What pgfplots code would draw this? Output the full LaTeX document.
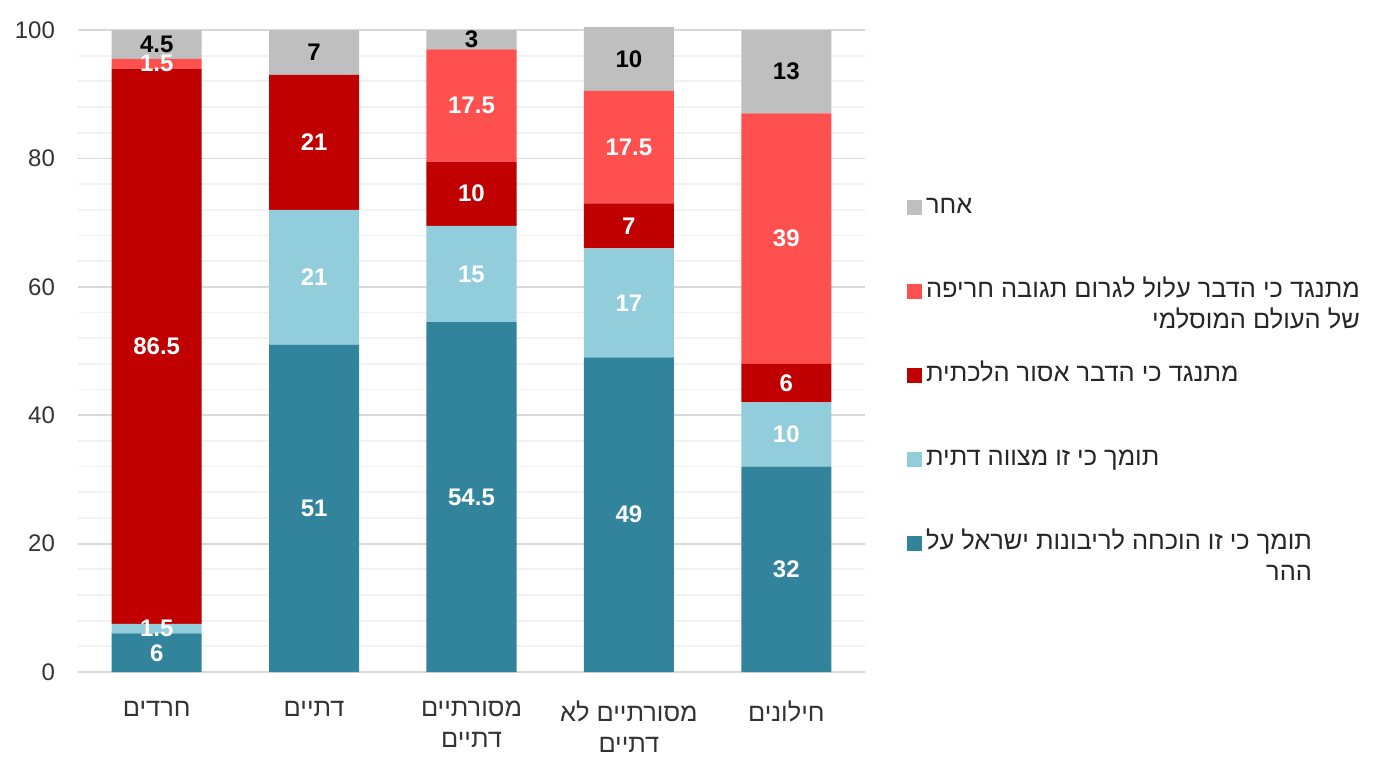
\documentclass[border=0pt]{standalone}
\usepackage{fontspec}
\usepackage{pgfplots}
\usepackage{pgfplotstable}
\pgfplotsset{compat=1.18}
\TeXXeTstate=1
\setmainfont{Liberation Sans}[Script=Hebrew]
\newcommand{\R}[1]{\beginR #1\endR}

\definecolor{cTeal}{RGB}{49,132,155}
\definecolor{cLightBlue}{RGB}{146,205,220}
\definecolor{cDarkRed}{RGB}{192,0,0}
\definecolor{cLightRed}{RGB}{255,80,80}
\definecolor{cGray}{RGB}{191,191,191}
\definecolor{cGridMajor}{RGB}{217,217,217}
\definecolor{cGridMinor}{RGB}{242,242,242}

% segments from bottom to top
\pgfplotstableread{
x  hov   mits  asur  alul  acher
0  6     1.5   86.5  1.5   4.5
1  51    21    21    0     7
2  54.5  15    10    17.5  3
3  49    17    7     17.5  10
4  32    10    6     39    13
}\survey

\newcommand{\lfont}{\fontsize{12.7}{15.5}\selectfont}
\newcommand{\nfont}{\fontsize{12}{14}\selectfont}

\begin{document}
\begin{tikzpicture}
\begin{axis}[
  at={(0,0)}, anchor=south west,
  % 100 units take 321pt; the range runs to 100.5 so the fourth column's
  % total of 100.5 stays inside
  scale only axis, width=393.5pt, height=322.6pt,
  ybar stacked, bar width=45pt,
  xmin=-0.5, xmax=4.5, ymin=0, ymax=100.5,
  xtick={0,1,2,3,4},
  xticklabels={{\R{חרדים}},{\R{דתיים}},{\R{מסורתיים}\\\R{דתיים}},{\R{מסורתיים לא}\\\R{דתיים}},{\R{חילונים}}},
  xticklabel style={font=\lfont, align=center, anchor=north, yshift=-11pt, text=black!80},
  ytick={0,20,...,100}, minor y tick num=4,
  yticklabel style={font=\nfont, anchor=east, xshift=-8pt, text=black!80},
  /pgf/number format/assume math mode=true,
  ymajorgrids, yminorgrids,
  major grid style={draw=cGridMajor, line width=0.9pt},
  minor grid style={draw=cGridMinor, line width=0.9pt},
  axis line style={draw=none}, major tick length=0pt, minor tick length=0pt,
  tick style={draw=none},
  every axis plot/.append style={draw=none},
  nodes near coords,
  every node near coord/.append style={anchor=center, font=\nfont\bfseries, text=white},
  reverse legend,
  legend cell align=left,
  legend image code/.code={\fill[#1] (0pt,-3.75pt) rectangle (7.5pt,3.75pt);},
  legend style={
    draw=none, fill=none, inner sep=0pt,
    at={(1.053,0.746)}, anchor=north west,
    row sep=26pt,
    font=\lfont,
    nodes={text height=9pt, text depth=3pt, inner xsep=2pt, inner ysep=2pt, text=black!85},
  },
]
\addplot[fill=cTeal] table[x=x, y=hov] {\survey};
\addlegendentry{\begin{tabular}[t]{@{}r@{}}\R{תומך כי זו הוכחה לריבונות ישראל על}\\\R{ההר}\end{tabular}}
\addplot[fill=cLightBlue] table[x=x, y=mits] {\survey};
\addlegendentry{\R{תומך כי זו מצווה דתית}}
\addplot[fill=cDarkRed] table[x=x, y=asur] {\survey};
\addlegendentry{\R{מתנגד כי הדבר אסור הלכתית}}
\addplot[fill=cLightRed] table[x=x, y=alul] {\survey};
\addlegendentry{\begin{tabular}[t]{@{}r@{}}\R{מתנגד כי הדבר עלול לגרום תגובה חריפה}\\\R{של העולם המוסלמי}\end{tabular}}
\addplot[fill=cGray, every node near coord/.append style={text=black}] table[x=x, y=acher] {\survey};
\addlegendentry{\R{אחר}}
\end{axis}
\pgfresetboundingbox
\path (-39pt,-54.5pt) rectangle (661pt,336pt);
\end{tikzpicture}
\end{document}
